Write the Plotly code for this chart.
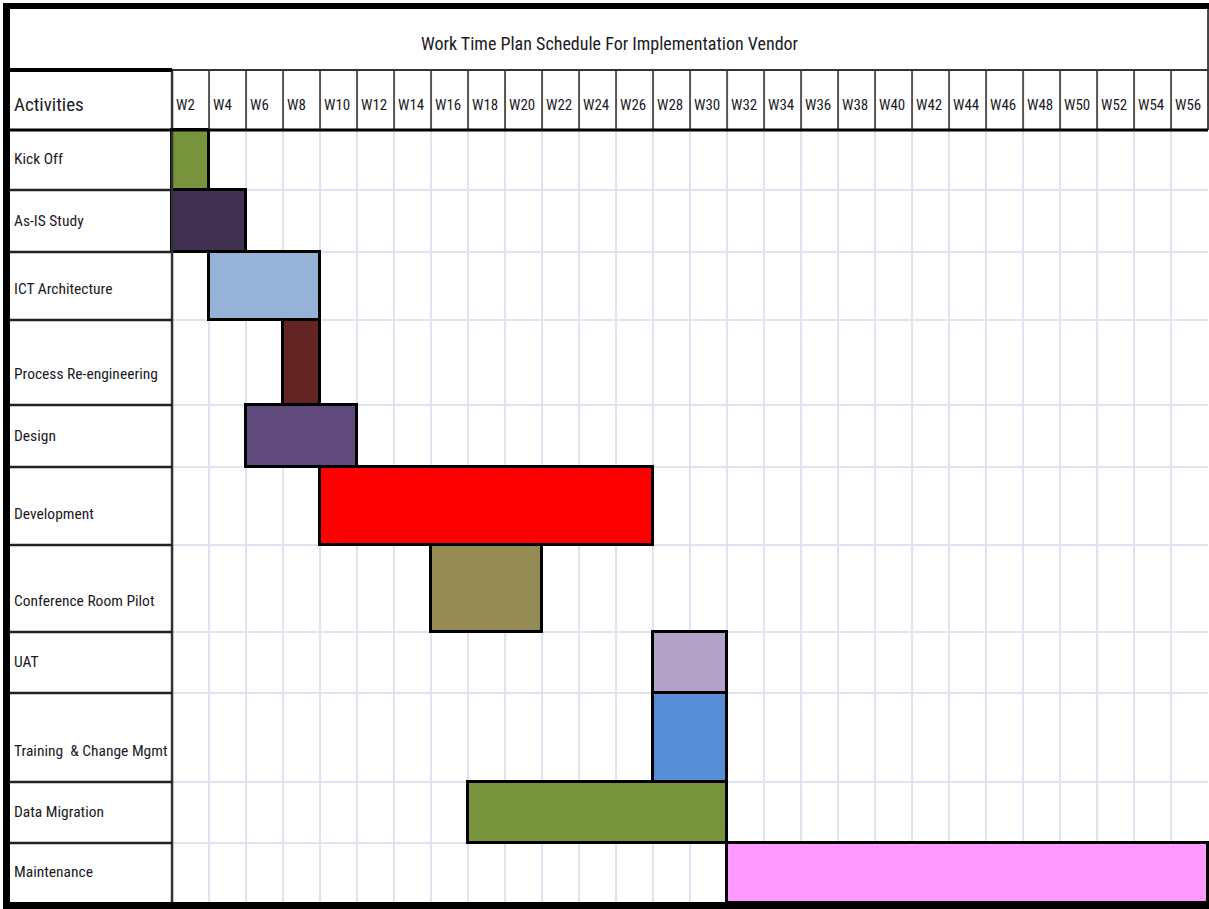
import plotly.graph_objects as go

# ---------------- data ----------------
activities = ["Kick Off", "As-IS Study", "ICT Architecture", "Process Re-engineering",
              "Design", "Development", "Conference Room Pilot", "UAT",
              "Training  & Change Mgmt", "Data Migration", "Maintenance"]
start_week = [2, 2, 4, 8, 6, 10, 16, 28, 28, 18, 32]
end_week = [2, 4, 8, 8, 10, 26, 20, 30, 30, 30, 56]
week_labels = ["W2", "W4", "W6", "W8", "W10", "W12", "W14", "W16", "W18", "W20",
               "W22", "W24", "W26", "W28", "W30", "W32", "W34", "W36", "W38", "W40",
               "W42", "W44", "W46", "W48", "W50", "W52", "W54", "W56"]
week_numbers = [2, 4, 6, 8, 10, 12, 14, 16, 18, 20, 22, 24, 26, 28, 30, 32, 34, 36,
                38, 40, 42, 44, 46, 48, 50, 52, 54, 56]
bar_colors = ["#77933c", "#403151", "#95b3d7", "#632523", "#604a7b", "#ff0000",
              "#948a54", "#b3a2c7", "#558ed5", "#77933c", "#ff99ff"]

# ---------------- layout helpers ----------------
W, H = 1209, 909
row_heights = [60, 62, 68, 85, 62, 78, 87, 61, 89, 61, 60]
HEADER_TOP, HEADER_BOT = 70, 130
LABEL_LEFT = 10
row_edges = [HEADER_BOT]
for h in row_heights:
    row_edges.append(row_edges[-1] + h)
row_centers = [(row_edges[i] + row_edges[i + 1]) / 2 for i in range(len(row_heights))]

FONT = "Roboto Condensed, Liberation Sans Narrow, DejaVu Sans Condensed, sans-serif"
TXT = "#1a1a24"
X0, X1 = -8.3, 57.05   # week axis range (col for Wk spans k-1..k+1)


def px(x):
    return x / W


fig = go.Figure()
fig.add_trace(go.Bar(
    orientation="h",
    y=row_centers,
    base=[s - 1 for s in start_week],
    x=[e - s + 2 for s, e in zip(start_week, end_week)],
    width=row_heights,
    marker=dict(color=bar_colors, line=dict(color="black", width=3)),
    hoverinfo="skip",
    showlegend=False,
))

shapes = []
grid_col = "#dde3ef"
first_edge = week_numbers[0] - 1
last_edge = week_numbers[-1] + 1
# light vertical grid in body
for w in week_numbers[1:]:
    shapes.append(dict(type="line", xref="x", yref="y", x0=w - 1, x1=w - 1,
                       y0=HEADER_BOT, y1=row_edges[-1], layer="below",
                       line=dict(color=grid_col, width=2)))
# light horizontal grid in body
for y in row_edges[1:-1]:
    shapes.append(dict(type="line", xref="x", yref="y", x0=first_edge, x1=last_edge,
                       y0=y, y1=y, layer="below", line=dict(color=grid_col, width=2)))
# header vertical dark lines
for w in week_numbers[1:]:
    shapes.append(dict(type="line", xref="x", yref="y", x0=w - 1, x1=w - 1,
                       y0=HEADER_TOP, y1=HEADER_BOT, line=dict(color="#555555", width=2)))
# right edge
shapes.append(dict(type="line", xref="x", yref="y", x0=last_edge, x1=last_edge,
                   y0=8, y1=HEADER_BOT, line=dict(color="#444444", width=2)))
# label column separator
shapes.append(dict(type="line", xref="x", yref="y", x0=first_edge, x1=first_edge,
                   y0=HEADER_TOP, y1=row_edges[-1], line=dict(color="#333333", width=2.5)))
# label column row lines
for y in row_edges[1:-1]:
    shapes.append(dict(type="line", xref="paper", yref="y", x0=px(LABEL_LEFT), x1=px(172),
                       y0=y, y1=y, line=dict(color="#222222", width=2.5)))
# header top line
shapes.append(dict(type="line", xref="paper", yref="y", x0=px(LABEL_LEFT), x1=px(172),
                   y0=HEADER_TOP, y1=HEADER_TOP, line=dict(color="black", width=4)))
shapes.append(dict(type="line", xref="paper", yref="y", x0=px(172), x1=px(1208),
                   y0=HEADER_TOP, y1=HEADER_TOP, line=dict(color="#333333", width=2)))
# header bottom line
shapes.append(dict(type="line", xref="paper", yref="y", x0=px(LABEL_LEFT), x1=px(1208),
                   y0=HEADER_BOT, y1=HEADER_BOT, line=dict(color="black", width=3)))
# outer frame
shapes.append(dict(type="rect", xref="paper", yref="y", x0=px(3), x1=px(10), y0=3, y1=909,
                   fillcolor="black", line=dict(width=0)))
shapes.append(dict(type="rect", xref="paper", yref="y", x0=px(3), x1=px(1209), y0=3, y1=9,
                   fillcolor="black", line=dict(width=0)))
shapes.append(dict(type="rect", xref="paper", yref="y", x0=px(3), x1=px(1209), y0=902, y1=909,
                   fillcolor="black", line=dict(width=0)))

annotations = []
annotations.append(dict(text="Work Time Plan Schedule For Implementation Vendor",
                        xref="paper", yref="y", x=px(610), y=43, showarrow=False,
                        xanchor="center", yanchor="middle",
                        font=dict(family=FONT, size=18, color=TXT)))
annotations.append(dict(text="Activities", xref="paper", yref="y", x=px(12), y=104,
                        showarrow=False, xanchor="left", yanchor="middle",
                        font=dict(family=FONT, size=19, color=TXT)))
for w, lab in zip(week_numbers, week_labels):
    annotations.append(dict(text=lab, xref="x", yref="y", x=w - 1, y=105, xshift=2,
                            showarrow=False, xanchor="left", yanchor="middle",
                            font=dict(family=FONT, size=15, color=TXT)))
for i, name in enumerate(activities):
    annotations.append(dict(text=name, xref="paper", yref="y", x=px(12),
                            y=row_edges[i + 1] - 31, showarrow=False,
                            xanchor="left", yanchor="middle",
                            font=dict(family=FONT, size=15.5, color=TXT)))

fig.update_layout(
    width=W, height=H,
    margin=dict(l=0, r=0, t=0, b=0),
    paper_bgcolor="white", plot_bgcolor="white",
    xaxis=dict(range=[X0, X1], visible=False, fixedrange=True),
    yaxis=dict(range=[H, 0], visible=False, fixedrange=True),
    shapes=shapes, annotations=annotations,
    bargap=0,
)
fig.write_html("out.html")
